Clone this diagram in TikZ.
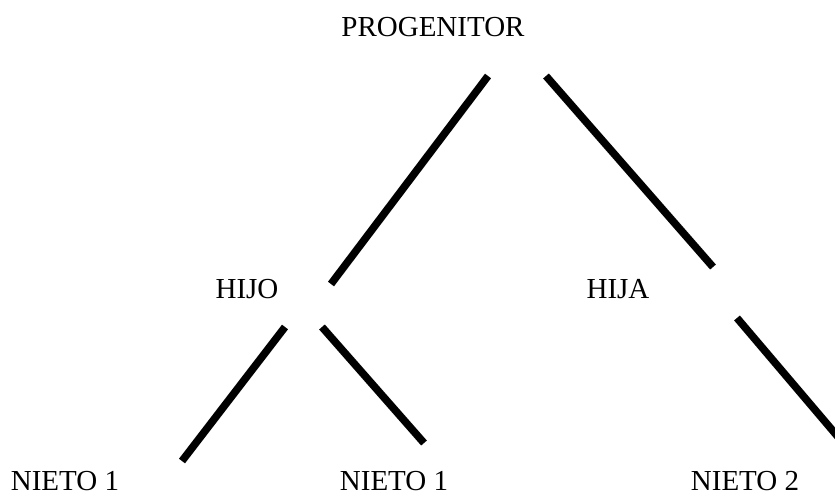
\documentclass[tikz,border=0pt]{standalone}
\usepackage{fontspec}
\setmainfont{Liberation Serif}
\usepackage{tikz}

\tikzset{
	rama/.style={black, line width=7.5pt, line cap=butt},
	sombra/.style={black!12, line width=8pt, line cap=butt, shift={(1.5pt,-2pt)}},
	nombre/.style={anchor=base, inner sep=0pt, font=\fontsize{29}{34}\selectfont}
}

\begin{document}
\begin{tikzpicture}[x=1pt,y=-1pt]
		\useasboundingbox (0,0) rectangle (835,495);
		\clip (0,0) rectangle (835,495);

		% label
		\node[nombre] (prog) at (433,37) {PROGENITOR};
		\node[nombre] (hijo) at (247,298) {HIJO};
		\node[nombre] (hija) at (618,298) {HIJA};
		\node[nombre] (nieto1a) at (65,490) {NIETO 1};
		\node[nombre] (nieto1b) at (394,490) {NIETO 1};
		\node[nombre] (nieto2) at (745,490) {NIETO 2};

		% ends
		\coordinate (pa) at (488,76);
		\coordinate (pb) at (546,76);
		\coordinate (hoa) at (331,284);
		\coordinate (hob) at (285,327);
		\coordinate (hoc) at (322,327);
		\coordinate (haa) at (713,267);
		\coordinate (hab) at (737,318);
		\coordinate (na) at (182,461);
		\coordinate (nb) at (424,443);
		\coordinate (nc) at (850,451);

		% shadow
		\draw [sombra] (pa) -- (hoa);
		\draw [sombra] (pb) -- (haa);
		\draw [sombra] (hob) -- (na);
		\draw [sombra] (hoc) -- (nb);
		\draw [sombra] (hab) -- (nc);

		% /  \
		\draw [rama] (pa) -- (hoa);
		\draw [rama] (pb) -- (haa);
		\draw [rama] (hob) -- (na);
		\draw [rama] (hoc) -- (nb);
		\draw [rama] (hab) -- (nc);
\end{tikzpicture}
\end{document}
